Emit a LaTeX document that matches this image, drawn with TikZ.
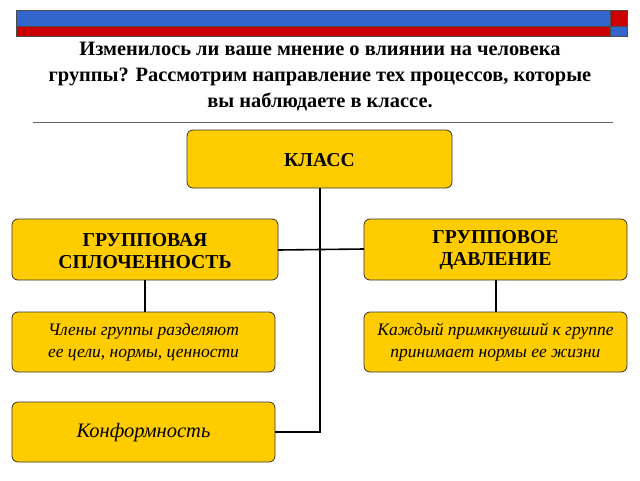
\documentclass[tikz,border=0pt]{standalone}
\usepackage{fontspec}
\setmainfont{Liberation Serif}
\begin{document}
\begin{tikzpicture}[x=1pt,y=-1pt,
  box/.style={draw=black!80,fill={rgb,255:red,255;green,204;blue,0},rounded corners=6pt,line width=0.8pt,inner sep=0pt},
  lbl/.style={align=center,font=\bfseries\fontsize{19.7}{22}\selectfont},
  ilbl/.style={align=center,font=\itshape\fontsize{17.5}{22}\selectfont},
  conn/.style={line width=1.6pt}]
\useasboundingbox (0,0) rectangle (640,480);
\fill[fill={rgb,255:red,51;green,102;blue,204},draw=black!70] (16,10) rectangle (610,26);
\fill[fill={rgb,255:red,204;green,0;blue,0},draw=black!70] (16,26) rectangle (610,36);
\fill[fill={rgb,255:red,204;green,0;blue,0},draw=black!70] (610,10) rectangle (627,26);
\fill[fill={rgb,255:red,51;green,102;blue,204},draw=black!70] (610,26) rectangle (627,36);
\node[align=center,font=\bfseries\fontsize{20.4}{26}\selectfont] (title) at (320,77) {Изменилось ли ваше мнение о влиянии на человека\\группы? Рассмотрим направление тех процессов, которые\\вы наблюдаете в классе.};
\draw[black!60,line width=0.8pt] (33,122) -- (613,122);
\path[box] (187,130) rectangle (452,188);
\node[lbl] (klass) at (319.5,160) {КЛАСС};
\coordinate (kb) at (320,188);
\path[box] (12,219) rectangle (278,280);
\node[lbl] (gs) at (145,251) {ГРУППОВАЯ\\СПЛОЧЕННОСТЬ};
\path[box] (364,219) rectangle (627,280);
\node[lbl] (gd) at (495.5,250) {ГРУППОВОЕ\\ДАВЛЕНИЕ};
\path[box] (12,312) rectangle (275,372);
\node[ilbl] (cl) at (143.5,342) {Члены группы разделяют\\ее цели, нормы, ценности};
\path[box] (364,312) rectangle (627,372);
\node[ilbl] (kp) at (495.5,342) {Каждый примкнувший к группе\\принимает нормы ее жизни};
\path[box] (12,402) rectangle (275,462);
\node[font=\itshape\fontsize{20.5}{22}\selectfont] (konf) at (143.5,433) {Конформность};
\draw[conn] (kb) -- (320,432) -- (275,432);
\draw[conn] (278,250) -- (364,249);
\draw[conn] (145,280) -- (145,312);
\draw[conn] (496,280) -- (496,312);
\end{tikzpicture}
\end{document}
